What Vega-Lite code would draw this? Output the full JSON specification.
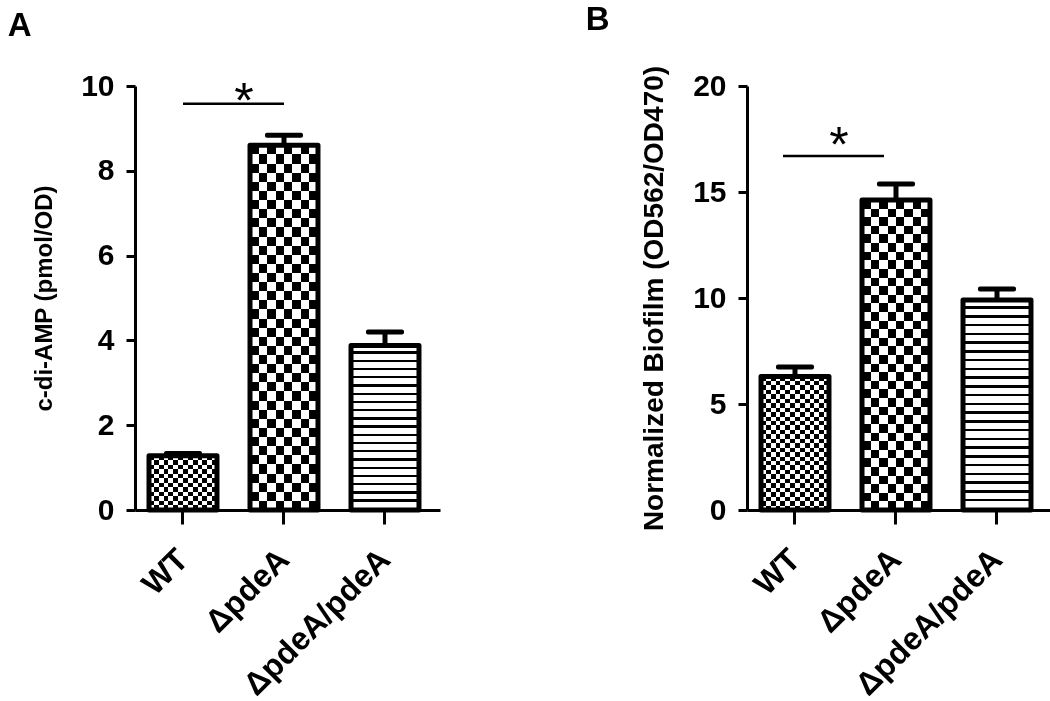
{
  "$schema": "https://vega.github.io/schema/vega-lite/v6.json",
  "background": "white",
  "padding": {"left": 7, "top": 4, "right": 0, "bottom": 0},
  "spacing": 145,
  "datasets": {
    "bars": [
      {"panel": "A", "group": "WT", "value": 1.28, "upper": 1.33},
      {"panel": "A", "group": "ΔpdeA", "value": 8.6, "upper": 8.84},
      {"panel": "A", "group": "ΔpdeA/pdeA", "value": 3.88, "upper": 4.2},
      {"panel": "B", "group": "WT", "value": 6.3, "upper": 6.75},
      {"panel": "B", "group": "ΔpdeA", "value": 14.62, "upper": 15.38},
      {"panel": "B", "group": "ΔpdeA/pdeA", "value": 9.9, "upper": 10.42}
    ],
    "sig": [
      {"panel": "A", "from": "WT", "to": "ΔpdeA", "y": 9.58, "label": "*"},
      {"panel": "B", "from": "WT", "to": "ΔpdeA", "y": 16.7, "label": "*"}
    ]
  },
  "hconcat": [
    {
      "width": 305,
      "height": 424,
      "title": {"text": "A", "anchor": "start", "frame": "bounds", "dx": -25, "offset": 28},
      "layer": [
        {
          "data": {"name": "bars"},
          "transform": [{"filter": "datum.panel === 'A'"}],
          "encoding": {
            "x": {"field": "group", "type": "nominal",
              "scale": {"domain": ["WT", "ΔpdeA", "ΔpdeA/pdeA"], "paddingInner": 0.327, "paddingOuter": 0.1734, "align": 0.4},
              "axis": {"title": null}},
            "y": {"field": "value", "type": "quantitative",
              "scale": {"domain": [0, 10], "nice": false},
              "axis": {"title": "c-di-AMP (pmol/OD)", "values": [0, 2, 4, 6, 8, 10], "titleFontSize": 24}}
          },
          "layer": [
            {"transform": [{"filter": "datum.group === 'WT'"}],
             "mark": {"type": "bar", "fill": {"gradient": "linear", "x1": 0, "y1": 0, "x2": 0, "y2": 1, "stops": [
               {"offset": 0, "color": "#fff"}, {"offset": 0.0833, "color": "#fff"},
               {"offset": 0.0833, "color": "#000"}, {"offset": 0.1667, "color": "#000"},
               {"offset": 0.1667, "color": "#fff"}, {"offset": 0.25, "color": "#fff"},
               {"offset": 0.25, "color": "#000"}, {"offset": 0.3333, "color": "#000"},
               {"offset": 0.3333, "color": "#fff"}, {"offset": 0.4167, "color": "#fff"},
               {"offset": 0.4167, "color": "#000"}, {"offset": 0.5, "color": "#000"},
               {"offset": 0.5, "color": "#fff"}, {"offset": 0.5833, "color": "#fff"},
               {"offset": 0.5833, "color": "#000"}, {"offset": 0.6667, "color": "#000"},
               {"offset": 0.6667, "color": "#fff"}, {"offset": 0.75, "color": "#fff"},
               {"offset": 0.75, "color": "#000"}, {"offset": 0.8333, "color": "#000"},
               {"offset": 0.8333, "color": "#fff"}, {"offset": 0.9167, "color": "#fff"},
               {"offset": 0.9167, "color": "#000"}, {"offset": 1, "color": "#000"}]}}},
            {"transform": [{"filter": "datum.group === 'WT'"}],
             "mark": {"type": "bar", "blend": "difference", "fill": {"gradient": "linear", "x1": 0, "y1": 0, "x2": 1, "y2": 0, "stops": [
               {"offset": 0, "color": "#fff"}, {"offset": 0.0714, "color": "#fff"},
               {"offset": 0.0714, "color": "#000"}, {"offset": 0.1429, "color": "#000"},
               {"offset": 0.1429, "color": "#fff"}, {"offset": 0.2143, "color": "#fff"},
               {"offset": 0.2143, "color": "#000"}, {"offset": 0.2857, "color": "#000"},
               {"offset": 0.2857, "color": "#fff"}, {"offset": 0.3571, "color": "#fff"},
               {"offset": 0.3571, "color": "#000"}, {"offset": 0.4286, "color": "#000"},
               {"offset": 0.4286, "color": "#fff"}, {"offset": 0.5, "color": "#fff"},
               {"offset": 0.5, "color": "#000"}, {"offset": 0.5714, "color": "#000"},
               {"offset": 0.5714, "color": "#fff"}, {"offset": 0.6429, "color": "#fff"},
               {"offset": 0.6429, "color": "#000"}, {"offset": 0.7143, "color": "#000"},
               {"offset": 0.7143, "color": "#fff"}, {"offset": 0.7857, "color": "#fff"},
               {"offset": 0.7857, "color": "#000"}, {"offset": 0.8571, "color": "#000"},
               {"offset": 0.8571, "color": "#fff"}, {"offset": 0.9286, "color": "#fff"},
               {"offset": 0.9286, "color": "#000"}, {"offset": 1, "color": "#000"}]}}},
            {"transform": [{"filter": "datum.group === 'ΔpdeA'"}],
             "mark": {"type": "bar", "fill": {"gradient": "linear", "x1": 0, "y1": 0, "x2": 0, "y2": 1, "stops": [
               {"offset": 0, "color": "#fff"}, {"offset": 0.025, "color": "#fff"},
               {"offset": 0.025, "color": "#000"}, {"offset": 0.05, "color": "#000"},
               {"offset": 0.05, "color": "#fff"}, {"offset": 0.075, "color": "#fff"},
               {"offset": 0.075, "color": "#000"}, {"offset": 0.1, "color": "#000"},
               {"offset": 0.1, "color": "#fff"}, {"offset": 0.125, "color": "#fff"},
               {"offset": 0.125, "color": "#000"}, {"offset": 0.15, "color": "#000"},
               {"offset": 0.15, "color": "#fff"}, {"offset": 0.175, "color": "#fff"},
               {"offset": 0.175, "color": "#000"}, {"offset": 0.2, "color": "#000"},
               {"offset": 0.2, "color": "#fff"}, {"offset": 0.225, "color": "#fff"},
               {"offset": 0.225, "color": "#000"}, {"offset": 0.25, "color": "#000"},
               {"offset": 0.25, "color": "#fff"}, {"offset": 0.275, "color": "#fff"},
               {"offset": 0.275, "color": "#000"}, {"offset": 0.3, "color": "#000"},
               {"offset": 0.3, "color": "#fff"}, {"offset": 0.325, "color": "#fff"},
               {"offset": 0.325, "color": "#000"}, {"offset": 0.35, "color": "#000"},
               {"offset": 0.35, "color": "#fff"}, {"offset": 0.375, "color": "#fff"},
               {"offset": 0.375, "color": "#000"}, {"offset": 0.4, "color": "#000"},
               {"offset": 0.4, "color": "#fff"}, {"offset": 0.425, "color": "#fff"},
               {"offset": 0.425, "color": "#000"}, {"offset": 0.45, "color": "#000"},
               {"offset": 0.45, "color": "#fff"}, {"offset": 0.475, "color": "#fff"},
               {"offset": 0.475, "color": "#000"}, {"offset": 0.5, "color": "#000"},
               {"offset": 0.5, "color": "#fff"}, {"offset": 0.525, "color": "#fff"},
               {"offset": 0.525, "color": "#000"}, {"offset": 0.55, "color": "#000"},
               {"offset": 0.55, "color": "#fff"}, {"offset": 0.575, "color": "#fff"},
               {"offset": 0.575, "color": "#000"}, {"offset": 0.6, "color": "#000"},
               {"offset": 0.6, "color": "#fff"}, {"offset": 0.625, "color": "#fff"},
               {"offset": 0.625, "color": "#000"}, {"offset": 0.65, "color": "#000"},
               {"offset": 0.65, "color": "#fff"}, {"offset": 0.675, "color": "#fff"},
               {"offset": 0.675, "color": "#000"}, {"offset": 0.7, "color": "#000"},
               {"offset": 0.7, "color": "#fff"}, {"offset": 0.725, "color": "#fff"},
               {"offset": 0.725, "color": "#000"}, {"offset": 0.75, "color": "#000"},
               {"offset": 0.75, "color": "#fff"}, {"offset": 0.775, "color": "#fff"},
               {"offset": 0.775, "color": "#000"}, {"offset": 0.8, "color": "#000"},
               {"offset": 0.8, "color": "#fff"}, {"offset": 0.825, "color": "#fff"},
               {"offset": 0.825, "color": "#000"}, {"offset": 0.85, "color": "#000"},
               {"offset": 0.85, "color": "#fff"}, {"offset": 0.875, "color": "#fff"},
               {"offset": 0.875, "color": "#000"}, {"offset": 0.9, "color": "#000"},
               {"offset": 0.9, "color": "#fff"}, {"offset": 0.925, "color": "#fff"},
               {"offset": 0.925, "color": "#000"}, {"offset": 0.95, "color": "#000"},
               {"offset": 0.95, "color": "#fff"}, {"offset": 0.975, "color": "#fff"},
               {"offset": 0.975, "color": "#000"}, {"offset": 1, "color": "#000"}]}}},
            {"transform": [{"filter": "datum.group === 'ΔpdeA'"}],
             "mark": {"type": "bar", "blend": "difference", "fill": {"gradient": "linear", "x1": 0, "y1": 0, "x2": 1, "y2": 0, "stops": [
               {"offset": 0, "color": "#fff"}, {"offset": 0.125, "color": "#fff"},
               {"offset": 0.125, "color": "#000"}, {"offset": 0.25, "color": "#000"},
               {"offset": 0.25, "color": "#fff"}, {"offset": 0.375, "color": "#fff"},
               {"offset": 0.375, "color": "#000"}, {"offset": 0.5, "color": "#000"},
               {"offset": 0.5, "color": "#fff"}, {"offset": 0.625, "color": "#fff"},
               {"offset": 0.625, "color": "#000"}, {"offset": 0.75, "color": "#000"},
               {"offset": 0.75, "color": "#fff"}, {"offset": 0.875, "color": "#fff"},
               {"offset": 0.875, "color": "#000"}, {"offset": 1, "color": "#000"}]}}},
            {"transform": [{"filter": "datum.group === 'ΔpdeA/pdeA'"}],
             "mark": {"type": "bar", "fill": {"gradient": "linear", "x1": 0, "y1": 0, "x2": 0, "y2": 1, "stops": [
               {"offset": 0, "color": "#fff"}, {"offset": 0.036, "color": "#fff"}, {"offset": 0.036, "color": "#000"}, {"offset": 0.05, "color": "#000"},
               {"offset": 0.05, "color": "#fff"}, {"offset": 0.086, "color": "#fff"}, {"offset": 0.086, "color": "#000"}, {"offset": 0.1, "color": "#000"},
               {"offset": 0.1, "color": "#fff"}, {"offset": 0.136, "color": "#fff"}, {"offset": 0.136, "color": "#000"}, {"offset": 0.15, "color": "#000"},
               {"offset": 0.15, "color": "#fff"}, {"offset": 0.186, "color": "#fff"}, {"offset": 0.186, "color": "#000"}, {"offset": 0.2, "color": "#000"},
               {"offset": 0.2, "color": "#fff"}, {"offset": 0.236, "color": "#fff"}, {"offset": 0.236, "color": "#000"}, {"offset": 0.25, "color": "#000"},
               {"offset": 0.25, "color": "#fff"}, {"offset": 0.286, "color": "#fff"}, {"offset": 0.286, "color": "#000"}, {"offset": 0.3, "color": "#000"},
               {"offset": 0.3, "color": "#fff"}, {"offset": 0.336, "color": "#fff"}, {"offset": 0.336, "color": "#000"}, {"offset": 0.35, "color": "#000"},
               {"offset": 0.35, "color": "#fff"}, {"offset": 0.386, "color": "#fff"}, {"offset": 0.386, "color": "#000"}, {"offset": 0.4, "color": "#000"},
               {"offset": 0.4, "color": "#fff"}, {"offset": 0.436, "color": "#fff"}, {"offset": 0.436, "color": "#000"}, {"offset": 0.45, "color": "#000"},
               {"offset": 0.45, "color": "#fff"}, {"offset": 0.486, "color": "#fff"}, {"offset": 0.486, "color": "#000"}, {"offset": 0.5, "color": "#000"},
               {"offset": 0.5, "color": "#fff"}, {"offset": 0.536, "color": "#fff"}, {"offset": 0.536, "color": "#000"}, {"offset": 0.55, "color": "#000"},
               {"offset": 0.55, "color": "#fff"}, {"offset": 0.586, "color": "#fff"}, {"offset": 0.586, "color": "#000"}, {"offset": 0.6, "color": "#000"},
               {"offset": 0.6, "color": "#fff"}, {"offset": 0.636, "color": "#fff"}, {"offset": 0.636, "color": "#000"}, {"offset": 0.65, "color": "#000"},
               {"offset": 0.65, "color": "#fff"}, {"offset": 0.686, "color": "#fff"}, {"offset": 0.686, "color": "#000"}, {"offset": 0.7, "color": "#000"},
               {"offset": 0.7, "color": "#fff"}, {"offset": 0.736, "color": "#fff"}, {"offset": 0.736, "color": "#000"}, {"offset": 0.75, "color": "#000"},
               {"offset": 0.75, "color": "#fff"}, {"offset": 0.786, "color": "#fff"}, {"offset": 0.786, "color": "#000"}, {"offset": 0.8, "color": "#000"},
               {"offset": 0.8, "color": "#fff"}, {"offset": 0.836, "color": "#fff"}, {"offset": 0.836, "color": "#000"}, {"offset": 0.85, "color": "#000"},
               {"offset": 0.85, "color": "#fff"}, {"offset": 0.886, "color": "#fff"}, {"offset": 0.886, "color": "#000"}, {"offset": 0.9, "color": "#000"},
               {"offset": 0.9, "color": "#fff"}, {"offset": 0.936, "color": "#fff"}, {"offset": 0.936, "color": "#000"}, {"offset": 0.95, "color": "#000"},
               {"offset": 0.95, "color": "#fff"}, {"offset": 0.986, "color": "#fff"}, {"offset": 0.986, "color": "#000"}, {"offset": 1, "color": "#000"}]}}},
            {"mark": {"type": "bar", "filled": false, "stroke": "black", "strokeWidth": 5, "strokeJoin": "round"}},
            {"mark": {"type": "rule", "strokeWidth": 5, "color": "black"}, "encoding": {"y2": {"field": "upper"}}},
            {"mark": {"type": "tick", "size": 38, "thickness": 5, "color": "black", "cornerRadius": 2, "opacity": 1},
             "encoding": {"y": {"field": "upper", "type": "quantitative", "title": "c-di-AMP (pmol/OD)"}}}
          ]
        },
        {
          "data": {"name": "sig"},
          "transform": [{"filter": "datum.panel === 'A'"}],
          "layer": [
            {"mark": {"type": "rule", "strokeWidth": 2.5, "color": "black"},
             "encoding": {
               "x": {"field": "from", "type": "nominal"},
               "x2": {"field": "to"},
               "y": {"field": "y", "type": "quantitative", "title": "c-di-AMP (pmol/OD)"}}},
            {"mark": {"type": "text", "fontSize": 50, "font": "Liberation Sans", "baseline": "alphabetic", "align": "center", "dx": -40, "dy": 14, "color": "black"},
             "encoding": {
               "x": {"field": "to", "type": "nominal"},
               "y": {"field": "y", "type": "quantitative", "title": "c-di-AMP (pmol/OD)"},
               "text": {"field": "label"}}}
          ]
        }
      ]
    },
    {
      "width": 305,
      "height": 424,
      "title": {"text": "B", "anchor": "start", "frame": "bounds", "dx": -55, "offset": 28},
      "layer": [
        {
          "data": {"name": "bars"},
          "transform": [{"filter": "datum.panel === 'B'"}],
          "encoding": {
            "x": {"field": "group", "type": "nominal",
              "scale": {"domain": ["WT", "ΔpdeA", "ΔpdeA/pdeA"], "paddingInner": 0.327, "paddingOuter": 0.1734, "align": 0.4},
              "axis": {"title": null}},
            "y": {"field": "value", "type": "quantitative",
              "scale": {"domain": [0, 20], "nice": false},
              "axis": {"title": "Normalized Biofilm (OD562/OD470)", "values": [0, 5, 10, 15, 20], "titleFontSize": 28}}
          },
          "layer": [
            {"transform": [{"filter": "datum.group === 'WT'"}],
             "mark": {"type": "bar", "fill": {"gradient": "linear", "x1": 0, "y1": 0, "x2": 0, "y2": 1, "stops": [
               {"offset": 0, "color": "#fff"}, {"offset": 0.0333, "color": "#fff"},
               {"offset": 0.0333, "color": "#000"}, {"offset": 0.0667, "color": "#000"},
               {"offset": 0.0667, "color": "#fff"}, {"offset": 0.1, "color": "#fff"},
               {"offset": 0.1, "color": "#000"}, {"offset": 0.1333, "color": "#000"},
               {"offset": 0.1333, "color": "#fff"}, {"offset": 0.1667, "color": "#fff"},
               {"offset": 0.1667, "color": "#000"}, {"offset": 0.2, "color": "#000"},
               {"offset": 0.2, "color": "#fff"}, {"offset": 0.2333, "color": "#fff"},
               {"offset": 0.2333, "color": "#000"}, {"offset": 0.2667, "color": "#000"},
               {"offset": 0.2667, "color": "#fff"}, {"offset": 0.3, "color": "#fff"},
               {"offset": 0.3, "color": "#000"}, {"offset": 0.3333, "color": "#000"},
               {"offset": 0.3333, "color": "#fff"}, {"offset": 0.3667, "color": "#fff"},
               {"offset": 0.3667, "color": "#000"}, {"offset": 0.4, "color": "#000"},
               {"offset": 0.4, "color": "#fff"}, {"offset": 0.4333, "color": "#fff"},
               {"offset": 0.4333, "color": "#000"}, {"offset": 0.4667, "color": "#000"},
               {"offset": 0.4667, "color": "#fff"}, {"offset": 0.5, "color": "#fff"},
               {"offset": 0.5, "color": "#000"}, {"offset": 0.5333, "color": "#000"},
               {"offset": 0.5333, "color": "#fff"}, {"offset": 0.5667, "color": "#fff"},
               {"offset": 0.5667, "color": "#000"}, {"offset": 0.6, "color": "#000"},
               {"offset": 0.6, "color": "#fff"}, {"offset": 0.6333, "color": "#fff"},
               {"offset": 0.6333, "color": "#000"}, {"offset": 0.6667, "color": "#000"},
               {"offset": 0.6667, "color": "#fff"}, {"offset": 0.7, "color": "#fff"},
               {"offset": 0.7, "color": "#000"}, {"offset": 0.7333, "color": "#000"},
               {"offset": 0.7333, "color": "#fff"}, {"offset": 0.7667, "color": "#fff"},
               {"offset": 0.7667, "color": "#000"}, {"offset": 0.8, "color": "#000"},
               {"offset": 0.8, "color": "#fff"}, {"offset": 0.8333, "color": "#fff"},
               {"offset": 0.8333, "color": "#000"}, {"offset": 0.8667, "color": "#000"},
               {"offset": 0.8667, "color": "#fff"}, {"offset": 0.9, "color": "#fff"},
               {"offset": 0.9, "color": "#000"}, {"offset": 0.9333, "color": "#000"},
               {"offset": 0.9333, "color": "#fff"}, {"offset": 0.9667, "color": "#fff"},
               {"offset": 0.9667, "color": "#000"}, {"offset": 1, "color": "#000"}]}}},
            {"transform": [{"filter": "datum.group === 'WT'"}],
             "mark": {"type": "bar", "blend": "difference", "fill": {"gradient": "linear", "x1": 0, "y1": 0, "x2": 1, "y2": 0, "stops": [
               {"offset": 0, "color": "#fff"}, {"offset": 0.0714, "color": "#fff"},
               {"offset": 0.0714, "color": "#000"}, {"offset": 0.1429, "color": "#000"},
               {"offset": 0.1429, "color": "#fff"}, {"offset": 0.2143, "color": "#fff"},
               {"offset": 0.2143, "color": "#000"}, {"offset": 0.2857, "color": "#000"},
               {"offset": 0.2857, "color": "#fff"}, {"offset": 0.3571, "color": "#fff"},
               {"offset": 0.3571, "color": "#000"}, {"offset": 0.4286, "color": "#000"},
               {"offset": 0.4286, "color": "#fff"}, {"offset": 0.5, "color": "#fff"},
               {"offset": 0.5, "color": "#000"}, {"offset": 0.5714, "color": "#000"},
               {"offset": 0.5714, "color": "#fff"}, {"offset": 0.6429, "color": "#fff"},
               {"offset": 0.6429, "color": "#000"}, {"offset": 0.7143, "color": "#000"},
               {"offset": 0.7143, "color": "#fff"}, {"offset": 0.7857, "color": "#fff"},
               {"offset": 0.7857, "color": "#000"}, {"offset": 0.8571, "color": "#000"},
               {"offset": 0.8571, "color": "#fff"}, {"offset": 0.9286, "color": "#fff"},
               {"offset": 0.9286, "color": "#000"}, {"offset": 1, "color": "#000"}]}}},
            {"transform": [{"filter": "datum.group === 'ΔpdeA'"}],
             "mark": {"type": "bar", "fill": {"gradient": "linear", "x1": 0, "y1": 0, "x2": 0, "y2": 1, "stops": [
               {"offset": 0, "color": "#fff"}, {"offset": 0.0278, "color": "#fff"},
               {"offset": 0.0278, "color": "#000"}, {"offset": 0.0556, "color": "#000"},
               {"offset": 0.0556, "color": "#fff"}, {"offset": 0.0833, "color": "#fff"},
               {"offset": 0.0833, "color": "#000"}, {"offset": 0.1111, "color": "#000"},
               {"offset": 0.1111, "color": "#fff"}, {"offset": 0.1389, "color": "#fff"},
               {"offset": 0.1389, "color": "#000"}, {"offset": 0.1667, "color": "#000"},
               {"offset": 0.1667, "color": "#fff"}, {"offset": 0.1944, "color": "#fff"},
               {"offset": 0.1944, "color": "#000"}, {"offset": 0.2222, "color": "#000"},
               {"offset": 0.2222, "color": "#fff"}, {"offset": 0.25, "color": "#fff"},
               {"offset": 0.25, "color": "#000"}, {"offset": 0.2778, "color": "#000"},
               {"offset": 0.2778, "color": "#fff"}, {"offset": 0.3056, "color": "#fff"},
               {"offset": 0.3056, "color": "#000"}, {"offset": 0.3333, "color": "#000"},
               {"offset": 0.3333, "color": "#fff"}, {"offset": 0.3611, "color": "#fff"},
               {"offset": 0.3611, "color": "#000"}, {"offset": 0.3889, "color": "#000"},
               {"offset": 0.3889, "color": "#fff"}, {"offset": 0.4167, "color": "#fff"},
               {"offset": 0.4167, "color": "#000"}, {"offset": 0.4444, "color": "#000"},
               {"offset": 0.4444, "color": "#fff"}, {"offset": 0.4722, "color": "#fff"},
               {"offset": 0.4722, "color": "#000"}, {"offset": 0.5, "color": "#000"},
               {"offset": 0.5, "color": "#fff"}, {"offset": 0.5278, "color": "#fff"},
               {"offset": 0.5278, "color": "#000"}, {"offset": 0.5556, "color": "#000"},
               {"offset": 0.5556, "color": "#fff"}, {"offset": 0.5833, "color": "#fff"},
               {"offset": 0.5833, "color": "#000"}, {"offset": 0.6111, "color": "#000"},
               {"offset": 0.6111, "color": "#fff"}, {"offset": 0.6389, "color": "#fff"},
               {"offset": 0.6389, "color": "#000"}, {"offset": 0.6667, "color": "#000"},
               {"offset": 0.6667, "color": "#fff"}, {"offset": 0.6944, "color": "#fff"},
               {"offset": 0.6944, "color": "#000"}, {"offset": 0.7222, "color": "#000"},
               {"offset": 0.7222, "color": "#fff"}, {"offset": 0.75, "color": "#fff"},
               {"offset": 0.75, "color": "#000"}, {"offset": 0.7778, "color": "#000"},
               {"offset": 0.7778, "color": "#fff"}, {"offset": 0.8056, "color": "#fff"},
               {"offset": 0.8056, "color": "#000"}, {"offset": 0.8333, "color": "#000"},
               {"offset": 0.8333, "color": "#fff"}, {"offset": 0.8611, "color": "#fff"},
               {"offset": 0.8611, "color": "#000"}, {"offset": 0.8889, "color": "#000"},
               {"offset": 0.8889, "color": "#fff"}, {"offset": 0.9167, "color": "#fff"},
               {"offset": 0.9167, "color": "#000"}, {"offset": 0.9444, "color": "#000"},
               {"offset": 0.9444, "color": "#fff"}, {"offset": 0.9722, "color": "#fff"},
               {"offset": 0.9722, "color": "#000"}, {"offset": 1, "color": "#000"}]}}},
            {"transform": [{"filter": "datum.group === 'ΔpdeA'"}],
             "mark": {"type": "bar", "blend": "difference", "fill": {"gradient": "linear", "x1": 0, "y1": 0, "x2": 1, "y2": 0, "stops": [
               {"offset": 0, "color": "#fff"}, {"offset": 0.125, "color": "#fff"},
               {"offset": 0.125, "color": "#000"}, {"offset": 0.25, "color": "#000"},
               {"offset": 0.25, "color": "#fff"}, {"offset": 0.375, "color": "#fff"},
               {"offset": 0.375, "color": "#000"}, {"offset": 0.5, "color": "#000"},
               {"offset": 0.5, "color": "#fff"}, {"offset": 0.625, "color": "#fff"},
               {"offset": 0.625, "color": "#000"}, {"offset": 0.75, "color": "#000"},
               {"offset": 0.75, "color": "#fff"}, {"offset": 0.875, "color": "#fff"},
               {"offset": 0.875, "color": "#000"}, {"offset": 1, "color": "#000"}]}}},
            {"transform": [{"filter": "datum.group === 'ΔpdeA/pdeA'"}],
             "mark": {"type": "bar", "fill": {"gradient": "linear", "x1": 0, "y1": 0, "x2": 0, "y2": 1, "stops": [
               {"offset": 0, "color": "#fff"}, {"offset": 0.03, "color": "#fff"}, {"offset": 0.03, "color": "#000"}, {"offset": 0.0417, "color": "#000"},
               {"offset": 0.0417, "color": "#fff"}, {"offset": 0.0717, "color": "#fff"}, {"offset": 0.0717, "color": "#000"}, {"offset": 0.0833, "color": "#000"},
               {"offset": 0.0833, "color": "#fff"}, {"offset": 0.1133, "color": "#fff"}, {"offset": 0.1133, "color": "#000"}, {"offset": 0.125, "color": "#000"},
               {"offset": 0.125, "color": "#fff"}, {"offset": 0.155, "color": "#fff"}, {"offset": 0.155, "color": "#000"}, {"offset": 0.1667, "color": "#000"},
               {"offset": 0.1667, "color": "#fff"}, {"offset": 0.1967, "color": "#fff"}, {"offset": 0.1967, "color": "#000"}, {"offset": 0.2083, "color": "#000"},
               {"offset": 0.2083, "color": "#fff"}, {"offset": 0.2383, "color": "#fff"}, {"offset": 0.2383, "color": "#000"}, {"offset": 0.25, "color": "#000"},
               {"offset": 0.25, "color": "#fff"}, {"offset": 0.28, "color": "#fff"}, {"offset": 0.28, "color": "#000"}, {"offset": 0.2917, "color": "#000"},
               {"offset": 0.2917, "color": "#fff"}, {"offset": 0.3217, "color": "#fff"}, {"offset": 0.3217, "color": "#000"}, {"offset": 0.3333, "color": "#000"},
               {"offset": 0.3333, "color": "#fff"}, {"offset": 0.3633, "color": "#fff"}, {"offset": 0.3633, "color": "#000"}, {"offset": 0.375, "color": "#000"},
               {"offset": 0.375, "color": "#fff"}, {"offset": 0.405, "color": "#fff"}, {"offset": 0.405, "color": "#000"}, {"offset": 0.4167, "color": "#000"},
               {"offset": 0.4167, "color": "#fff"}, {"offset": 0.4467, "color": "#fff"}, {"offset": 0.4467, "color": "#000"}, {"offset": 0.4583, "color": "#000"},
               {"offset": 0.4583, "color": "#fff"}, {"offset": 0.4883, "color": "#fff"}, {"offset": 0.4883, "color": "#000"}, {"offset": 0.5, "color": "#000"},
               {"offset": 0.5, "color": "#fff"}, {"offset": 0.53, "color": "#fff"}, {"offset": 0.53, "color": "#000"}, {"offset": 0.5417, "color": "#000"},
               {"offset": 0.5417, "color": "#fff"}, {"offset": 0.5717, "color": "#fff"}, {"offset": 0.5717, "color": "#000"}, {"offset": 0.5833, "color": "#000"},
               {"offset": 0.5833, "color": "#fff"}, {"offset": 0.6133, "color": "#fff"}, {"offset": 0.6133, "color": "#000"}, {"offset": 0.625, "color": "#000"},
               {"offset": 0.625, "color": "#fff"}, {"offset": 0.655, "color": "#fff"}, {"offset": 0.655, "color": "#000"}, {"offset": 0.6667, "color": "#000"},
               {"offset": 0.6667, "color": "#fff"}, {"offset": 0.6967, "color": "#fff"}, {"offset": 0.6967, "color": "#000"}, {"offset": 0.7083, "color": "#000"},
               {"offset": 0.7083, "color": "#fff"}, {"offset": 0.7383, "color": "#fff"}, {"offset": 0.7383, "color": "#000"}, {"offset": 0.75, "color": "#000"},
               {"offset": 0.75, "color": "#fff"}, {"offset": 0.78, "color": "#fff"}, {"offset": 0.78, "color": "#000"}, {"offset": 0.7917, "color": "#000"},
               {"offset": 0.7917, "color": "#fff"}, {"offset": 0.8217, "color": "#fff"}, {"offset": 0.8217, "color": "#000"}, {"offset": 0.8333, "color": "#000"},
               {"offset": 0.8333, "color": "#fff"}, {"offset": 0.8633, "color": "#fff"}, {"offset": 0.8633, "color": "#000"}, {"offset": 0.875, "color": "#000"},
               {"offset": 0.875, "color": "#fff"}, {"offset": 0.905, "color": "#fff"}, {"offset": 0.905, "color": "#000"}, {"offset": 0.9167, "color": "#000"},
               {"offset": 0.9167, "color": "#fff"}, {"offset": 0.9467, "color": "#fff"}, {"offset": 0.9467, "color": "#000"}, {"offset": 0.9583, "color": "#000"},
               {"offset": 0.9583, "color": "#fff"}, {"offset": 0.9883, "color": "#fff"}, {"offset": 0.9883, "color": "#000"}, {"offset": 1, "color": "#000"}]}}},
            {"mark": {"type": "bar", "filled": false, "stroke": "black", "strokeWidth": 5, "strokeJoin": "round"}},
            {"mark": {"type": "rule", "strokeWidth": 5, "color": "black"}, "encoding": {"y2": {"field": "upper"}}},
            {"mark": {"type": "tick", "size": 38, "thickness": 5, "color": "black", "cornerRadius": 2, "opacity": 1},
             "encoding": {"y": {"field": "upper", "type": "quantitative", "title": "Normalized Biofilm (OD562/OD470)"}}}
          ]
        },
        {
          "data": {"name": "sig"},
          "transform": [{"filter": "datum.panel === 'B'"}],
          "layer": [
            {"mark": {"type": "rule", "strokeWidth": 2.5, "color": "black", "xOffset": -12, "x2Offset": -12},
             "encoding": {
               "x": {"field": "from", "type": "nominal"},
               "x2": {"field": "to"},
               "y": {"field": "y", "type": "quantitative", "title": "Normalized Biofilm (OD562/OD470)"}}},
            {"mark": {"type": "text", "fontSize": 50, "font": "Liberation Sans", "baseline": "alphabetic", "align": "center", "dx": -57, "dy": 6, "color": "black"},
             "encoding": {
               "x": {"field": "to", "type": "nominal"},
               "y": {"field": "y", "type": "quantitative", "title": "Normalized Biofilm (OD562/OD470)"},
               "text": {"field": "label"}}}
          ]
        }
      ]
    }
  ],
  "config": {
    "view": {"stroke": null},
    "font": "Liberation Sans",
    "title": {"font": "Liberation Sans", "fontSize": 33, "fontWeight": "bold", "color": "black"},
    "axis": {
      "grid": false,
      "domainColor": "black",
      "domainWidth": 3,
      "tickColor": "black",
      "tickWidth": 3,
      "labelFont": "Liberation Sans",
      "labelFontWeight": "bold",
      "labelColor": "black",
      "titleFont": "Liberation Sans",
      "titleFontWeight": "bold",
      "titleColor": "black"
    },
    "axisY": {"labelFontSize": 30, "tickSize": 9, "labelPadding": 12, "titlePadding": 24},
    "axisX": {"labelFontSize": 32, "tickSize": 14, "labelPadding": 30, "labelAngle": -45, "labelAlign": "right", "labelBaseline": "middle", "labelLimit": 400, "labelOverlap": false}
  }
}
